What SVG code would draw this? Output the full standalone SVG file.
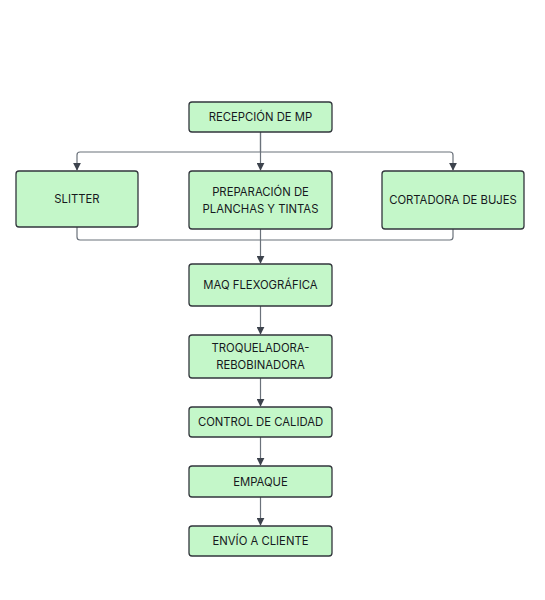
<svg xmlns="http://www.w3.org/2000/svg" width="545" height="600" viewBox="0 0 545 600">
<defs>
<style>
.box{fill:#c4f7c9;stroke:#32363c;stroke-width:1.3}
.lbl{font-family:Inter,"Open Sans","Liberation Sans",sans-serif;font-size:11.3px;font-weight:400;fill:#16191d;text-anchor:middle;dominant-baseline:central}
.edge{fill:none;stroke:#6b727b;stroke-width:1.2}
</style>
<marker id="ah" viewBox="0 0 10 10" refX="9" refY="5" markerWidth="8" markerHeight="8" markerUnits="userSpaceOnUse" orient="auto">
<path d="M0,0 L10,5 L0,10 z" fill="#3d434d"/>
</marker>
</defs>
<rect width="545" height="600" fill="#ffffff"/>
<g id="connectors">
<path class="edge" d="M260.5,132 V152 H80 Q77,152 77,155 V170" marker-end="url(#ah)"/>
<path class="edge" d="M260.5,132 V170" marker-end="url(#ah)"/>
<path class="edge" d="M260.5,152 H450 Q453,152 453,155 V170" marker-end="url(#ah)"/>
<path class="edge" d="M77,227 V237 Q77,240 80,240 H260.5"/>
<path class="edge" d="M453,229 V237 Q453,240 450,240 H260.5"/>
<path class="edge" d="M260.5,229 V263" marker-end="url(#ah)"/>
<path class="edge" d="M260.5,306 V334" marker-end="url(#ah)"/>
<path class="edge" d="M260.5,378 V406" marker-end="url(#ah)"/>
<path class="edge" d="M260.5,437 V465" marker-end="url(#ah)"/>
<path class="edge" d="M260.5,497 V525" marker-end="url(#ah)"/>
</g>
<g id="recepcion"><rect class="box" x="189" y="102" width="143" height="30" rx="3"/><text class="lbl" x="260.5" y="117">RECEPCIÓN DE MP</text></g>
<g id="slitter"><rect class="box" x="16" y="171" width="122" height="56" rx="3"/><text class="lbl" x="77" y="199">SLITTER</text></g>
<g id="preparacion"><rect class="box" x="189" y="171" width="143" height="58" rx="3"/><text class="lbl" x="260.5" y="192">PREPARACIÓN DE</text><text class="lbl" x="260.5" y="209">PLANCHAS Y TINTAS</text></g>
<g id="cortadora"><rect class="box" x="382" y="171" width="142" height="58" rx="3"/><text class="lbl" x="453" y="200">CORTADORA DE BUJES</text></g>
<g id="maq"><rect class="box" x="189" y="264" width="143" height="42" rx="3"/><text class="lbl" x="260.5" y="285">MAQ FLEXOGRÁFICA</text></g>
<g id="troqueladora"><rect class="box" x="189" y="335" width="143" height="43" rx="3"/><text class="lbl" x="260.5" y="348">TROQUELADORA-</text><text class="lbl" x="260.5" y="365">REBOBINADORA</text></g>
<g id="control"><rect class="box" x="189" y="407" width="143" height="30" rx="3"/><text class="lbl" x="260.5" y="422">CONTROL DE CALIDAD</text></g>
<g id="empaque"><rect class="box" x="189" y="466" width="143" height="31" rx="3"/><text class="lbl" x="260.5" y="481.5">EMPAQUE</text></g>
<g id="envio"><rect class="box" x="189" y="526" width="143" height="30" rx="3"/><text class="lbl" x="260.5" y="541">ENVÍO A CLIENTE</text></g>
</svg>
